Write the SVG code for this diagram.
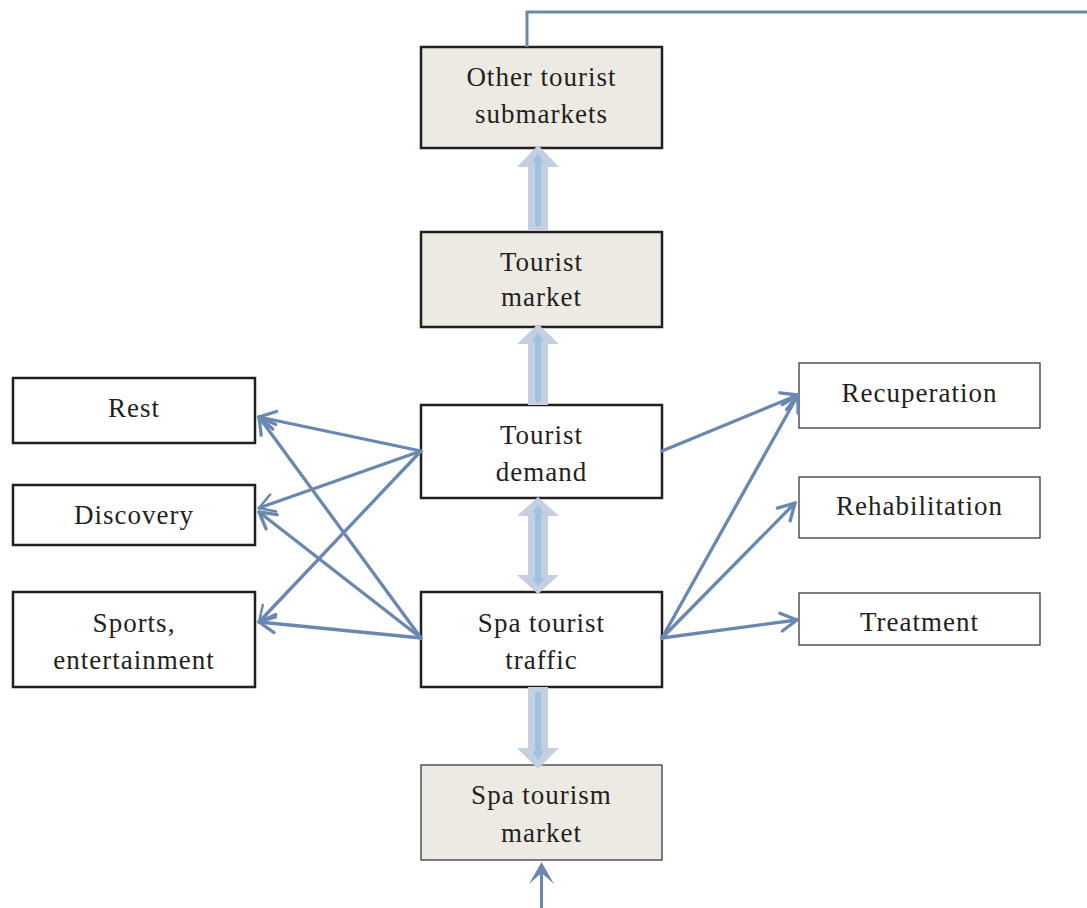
<svg xmlns="http://www.w3.org/2000/svg" width="1087" height="908" viewBox="0 0 1087 908">
<defs>
<style>
.box{fill:#ffffff;stroke:#231f20;stroke-width:2.5}
.shade{fill:#edeae4}
.thin{stroke-width:1.3;stroke:#3a3a3a}
.t{font-family:"Liberation Serif","Times New Roman",serif;font-size:27px;fill:#231f20;text-anchor:middle;letter-spacing:1px}
.c{fill:none;stroke:#6a87b0;stroke-width:3.3;stroke-linecap:round}
.big{fill:#c4cfe1}
.inner{fill:#9ec3e0}
</style>
<marker id="ah" markerUnits="userSpaceOnUse" markerWidth="30" markerHeight="30" viewBox="-20 -15 30 30" refX="0" refY="0" orient="auto">
<path d="M-16,-9 L0,0 L-16,9" fill="none" stroke="#6a87b0" stroke-width="3.3" stroke-linecap="round" stroke-linejoin="round"/>
</marker>
<marker id="ah2" markerUnits="userSpaceOnUse" markerWidth="30" markerHeight="30" viewBox="-20 -15 30 30" refX="0" refY="0" orient="auto">
<path d="M-15,-9 L0,0 L-15,9" fill="none" stroke="#6a87b0" stroke-width="2.5" stroke-linecap="round" stroke-linejoin="round"/>
</marker>
</defs>
<rect width="1087" height="908" fill="#ffffff"/>

<g id="n-other">
<rect class="box shade" x="421" y="47" width="241" height="101"/>
<text class="t" x="541.5" y="86">Other tourist</text>
<text class="t" x="541.5" y="123">submarkets</text>
</g>
<g id="n-market">
<rect class="box shade" x="421" y="232" width="241" height="95"/>
<text class="t" x="541.5" y="271">Tourist</text>
<text class="t" x="541.5" y="306">market</text>
</g>
<g id="n-demand">
<rect class="box" x="421" y="405" width="241" height="93"/>
<text class="t" x="541.5" y="444">Tourist</text>
<text class="t" x="541.5" y="481">demand</text>
</g>
<g id="n-traffic">
<rect class="box" x="421" y="592" width="241" height="95"/>
<text class="t" x="541.5" y="632">Spa tourist</text>
<text class="t" x="541.5" y="669">traffic</text>
</g>
<g id="n-spamarket">
<rect class="box shade thin" x="421" y="765" width="241" height="95"/>
<text class="t" x="541.5" y="804">Spa tourism</text>
<text class="t" x="541.5" y="842">market</text>
</g>
<g id="n-rest">
<rect class="box" x="13" y="378" width="242" height="65"/>
<text class="t" x="134" y="417">Rest</text>
</g>
<g id="n-discovery">
<rect class="box" x="13" y="485" width="242" height="60"/>
<text class="t" x="134" y="524">Discovery</text>
</g>
<g id="n-sports">
<rect class="box" x="13" y="592" width="242" height="95"/>
<text class="t" x="134" y="632">Sports,</text>
<text class="t" x="134" y="669">entertainment</text>
</g>
<g id="n-recup">
<rect class="box thin" x="799" y="363" width="241" height="65"/>
<text class="t" x="919.5" y="402">Recuperation</text>
</g>
<g id="n-rehab">
<rect class="box thin" x="799" y="477" width="241" height="61"/>
<text class="t" x="919.5" y="515">Rehabilitation</text>
</g>
<g id="n-treat">
<rect class="box thin" x="799" y="593" width="241" height="52"/>
<text class="t" x="919.5" y="631">Treatment</text>
</g>

<g id="connectors">
<path d="M527,47 V12 H1087" fill="none" stroke="#6a87b0" stroke-width="3"/>
<polygon class="big" points="538,145 559,167 548,167 548,230 528,230 528,167 517,167"/>
<polygon class="inner" points="538,153 544,162 541,162 541,226 535,226 535,162 532,162"/>
<polygon class="big" points="538,324 559,344 548,344 548,405 528,405 528,344 517,344"/>
<polygon class="inner" points="538,332 544,341 541,341 541,402 535,402 535,341 532,341"/>
<polygon class="big" points="538,497 559,516 548,516 548,575 559,575 538,594 517,575 528,575 528,516 517,516"/>
<polygon class="inner" points="538,505 544,513 541,513 541,578 544,578 538,586 532,578 535,578 535,513 532,513"/>
<polygon class="big" points="528,687 548,687 548,748 559,748 538,769 517,748 528,748"/>
<polygon class="inner" points="535,692 541,692 541,751 544,751 538,760 532,751 535,751"/>
<line class="c" x1="421" y1="451" x2="259" y2="417" marker-end="url(#ah)"/>
<line class="c" x1="421" y1="451" x2="259" y2="508" stroke-width="1.5" marker-end="url(#ah2)"/>
<line class="c" x1="421" y1="451" x2="259" y2="622" stroke-width="2" marker-end="url(#ah2)"/>
<line class="c" x1="421" y1="638" x2="259" y2="417" marker-end="url(#ah)"/>
<line class="c" x1="421" y1="638" x2="259" y2="512" marker-end="url(#ah)"/>
<line class="c" x1="421" y1="638" x2="259" y2="622" marker-end="url(#ah)"/>
<line class="c" x1="662" y1="451" x2="798" y2="395" marker-end="url(#ah)"/>
<line class="c" x1="662" y1="638" x2="798" y2="395" marker-end="url(#ah)"/>
<line class="c" x1="662" y1="638" x2="795" y2="503" marker-end="url(#ah)"/>
<line class="c" x1="662" y1="638" x2="797" y2="620" marker-end="url(#ah)"/>
<line x1="541.5" y1="908" x2="541.5" y2="870" stroke="#6a87b0" stroke-width="3"/>
<path d="M541.5,862 L554,884 L541.5,873 L529,884 Z" fill="#6a87b0"/>
</g>
</svg>
